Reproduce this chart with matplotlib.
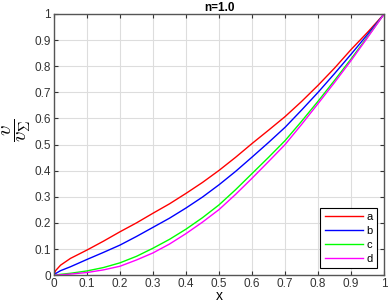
import matplotlib.pyplot as plt

plt.rcParams['font.family'] = ['Liberation Sans', 'DejaVu Sans']
plt.rcParams['mathtext.fontset'] = 'cm'

x = [0, 0.005, 0.02, 0.05, 0.1, 0.15, 0.2, 0.25, 0.3, 0.35, 0.4, 0.45, 0.5,
     0.55, 0.6, 0.65, 0.7, 0.75, 0.8, 0.85, 0.9, 0.95, 1.0]
a = [0, 0.017, 0.038, 0.064, 0.096, 0.13, 0.166, 0.20, 0.237, 0.273, 0.313, 0.355, 0.401,
     0.451, 0.504, 0.555, 0.607, 0.665, 0.727, 0.793, 0.864, 0.93, 1.0]
b = [0, 0.006, 0.017, 0.032, 0.06, 0.087, 0.115, 0.148, 0.183, 0.218, 0.257, 0.299, 0.346,
     0.397, 0.452, 0.508, 0.566, 0.632, 0.70, 0.772, 0.846, 0.922, 1.0]
c = [0, 0.0005, 0.003, 0.007, 0.016, 0.029, 0.047, 0.072, 0.103, 0.137, 0.176, 0.220, 0.269,
     0.327, 0.389, 0.451, 0.515, 0.589, 0.666, 0.746, 0.828, 0.913, 1.0]
d = [0, 0.0002, 0.001, 0.004, 0.01, 0.02, 0.034, 0.058, 0.085, 0.119, 0.159, 0.203, 0.251,
     0.309, 0.371, 0.435, 0.50, 0.577, 0.657, 0.738, 0.822, 0.91, 1.0]

fig = plt.figure(figsize=(3.88, 3.04), dpi=100)
ax = fig.add_axes([0.139, 0.095, 0.851, 0.859])

ax.plot(x, a, color='red', lw=1, label='a')
ax.plot(x, b, color='blue', lw=1, label='b')
ax.plot(x, c, color='#00ff00', lw=1, label='c')
ax.plot(x, d, color='magenta', lw=1, label='d')

ax.set_xlim(0, 1)
ax.set_ylim(0, 1)
ticks = [i / 10 for i in range(11)]
labels = ['0'] + ['%.1f' % t for t in ticks[1:-1]] + ['1']
ax.set_xticks(ticks)
ax.set_yticks(ticks)
ax.set_xticklabels(labels)
ax.set_yticklabels(labels)
ax.tick_params(direction='in', length=3, labelsize=8.5, colors='#333333',
               top=True, right=True)
ax.tick_params(axis='x', pad=2)
ax.tick_params(axis='y', pad=2)
ax.grid(True, color='#dddddd', lw=0.8)
for s in ax.spines.values():
    s.set_color('#555555')
    s.set_linewidth(1)

ax.set_title('n=1.0', fontsize=8.5, fontweight='bold', pad=2)
ax.set_xlabel('x', fontsize=10, va='center')
ax.xaxis.set_label_coords(0.5, -0.081)
ax.set_ylabel(r'$\dfrac{v}{v_\Sigma}$', fontsize=15)
ax.yaxis.set_label_coords(-0.064, 0.555)

leg = ax.legend(loc='lower right', fontsize=8, fancybox=False, framealpha=1,
                edgecolor='black', handlelength=3.5, handletextpad=0.3,
                labelspacing=0.35, borderaxespad=0.6)
leg.get_frame().set_linewidth(0.8)

fig.savefig('out.png', dpi=100)
